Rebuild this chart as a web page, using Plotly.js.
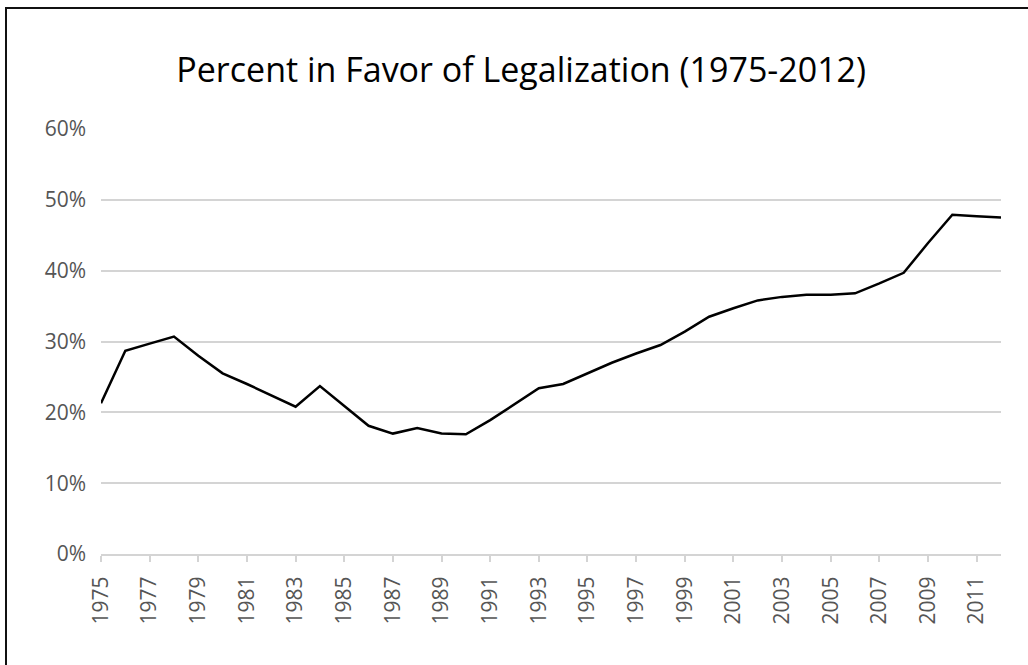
<!DOCTYPE html>
<html>
<head>
<meta charset="utf-8">
<script src="https://cdn.plot.ly/plotly-3.0.1.min.js"></script>
<style>
html,body{margin:0;padding:0;background:#fff;overflow:hidden;}
#wrap{position:relative;width:1028px;height:665px;}
#chart{position:absolute;left:0;top:0;width:1028px;height:665px;}
#frame{position:absolute;left:5px;top:7px;width:1100px;height:800px;border:2px solid #111;pointer-events:none;}
</style>
</head>
<body>
<div id="wrap"><div id="chart"></div><div id="frame"></div></div>
<script>
const years = [1975,1976,1977,1978,1979,1980,1981,1982,1983,1984,1985,1986,1987,1988,1989,1990,1991,1992,1993,1994,1995,1996,1997,1998,1999,2000,2001,2002,2003,2004,2005,2006,2007,2008,2009,2010,2011,2012];
const percentInFavor = [21.3,28.7,29.7,30.7,28.0,25.5,24.0,22.4,20.8,23.7,20.9,18.1,17.0,17.8,17.0,16.9,18.9,21.2,23.4,24.0,25.5,27.0,28.3,29.5,31.4,33.5,34.7,35.8,36.3,36.6,36.6,36.8,38.2,39.7,43.9,47.9,47.7,47.5];
const xTickVals = [1975,1977,1979,1981,1983,1985,1987,1989,1991,1993,1995,1997,1999,2001,2003,2005,2007,2009,2011];
const xTickText = ["1975","1977","1979","1981","1983","1985","1987","1989","1991","1993","1995","1997","1999","2001","2003","2005","2007","2009","2011"];
const yTickVals = [0,10,20,30,40,50,60];
const yTickText = ["0%","10%","20%","30%","40%","50%","60%"];
const titleText = "Percent in Favor of Legalization (1975-2012)";

const trace = {
  x: years, y: percentInFavor, type: 'scatter', mode: 'lines',
  line: {color: '#000000', width: 2.5},
  hoverinfo: 'skip'
};
const tickFont = {family: 'Open Sans, Noto Sans, sans-serif', size: 21, color: '#555555'};
const layout = {
  width: 1028, height: 665,
  paper_bgcolor: '#ffffff', plot_bgcolor: '#ffffff',
  margin: {l: 101, r: 27, t: 129, b: 111, pad: 0},
  showlegend: false,
  title: {
    text: titleText,
    font: {family: 'Open Sans, Noto Sans, sans-serif', size: 34, color: '#000000'},
    x: 0.507, xanchor: 'center', xref: 'container',
    y: 1 - 70/665, yanchor: 'middle', yref: 'container'
  },
  xaxis: {
    range: [1975, 2012], tickmode: 'array', tickvals: xTickVals, ticktext: xTickText,
    tickangle: -90, tickfont: tickFont,
    showline: true, linecolor: '#d4d4d4', linewidth: 2,
    ticks: 'outside', ticklen: 6, tickwidth: 2, tickcolor: '#d4d4d4',
    showgrid: false, zeroline: false, ticklabelstandoff: 6
  },
  yaxis: {
    range: [0, 60], tickmode: 'array', tickvals: yTickVals, ticktext: yTickText,
    tickfont: tickFont, showline: false, ticks: '',
    showgrid: true, gridcolor: '#d4d4d4', gridwidth: 2, zeroline: false,
    ticklabelstandoff: 14
  }
};
Plotly.newPlot('chart', [trace], layout, {staticPlot: true, displayModeBar: false});
</script>
</body>
</html>
